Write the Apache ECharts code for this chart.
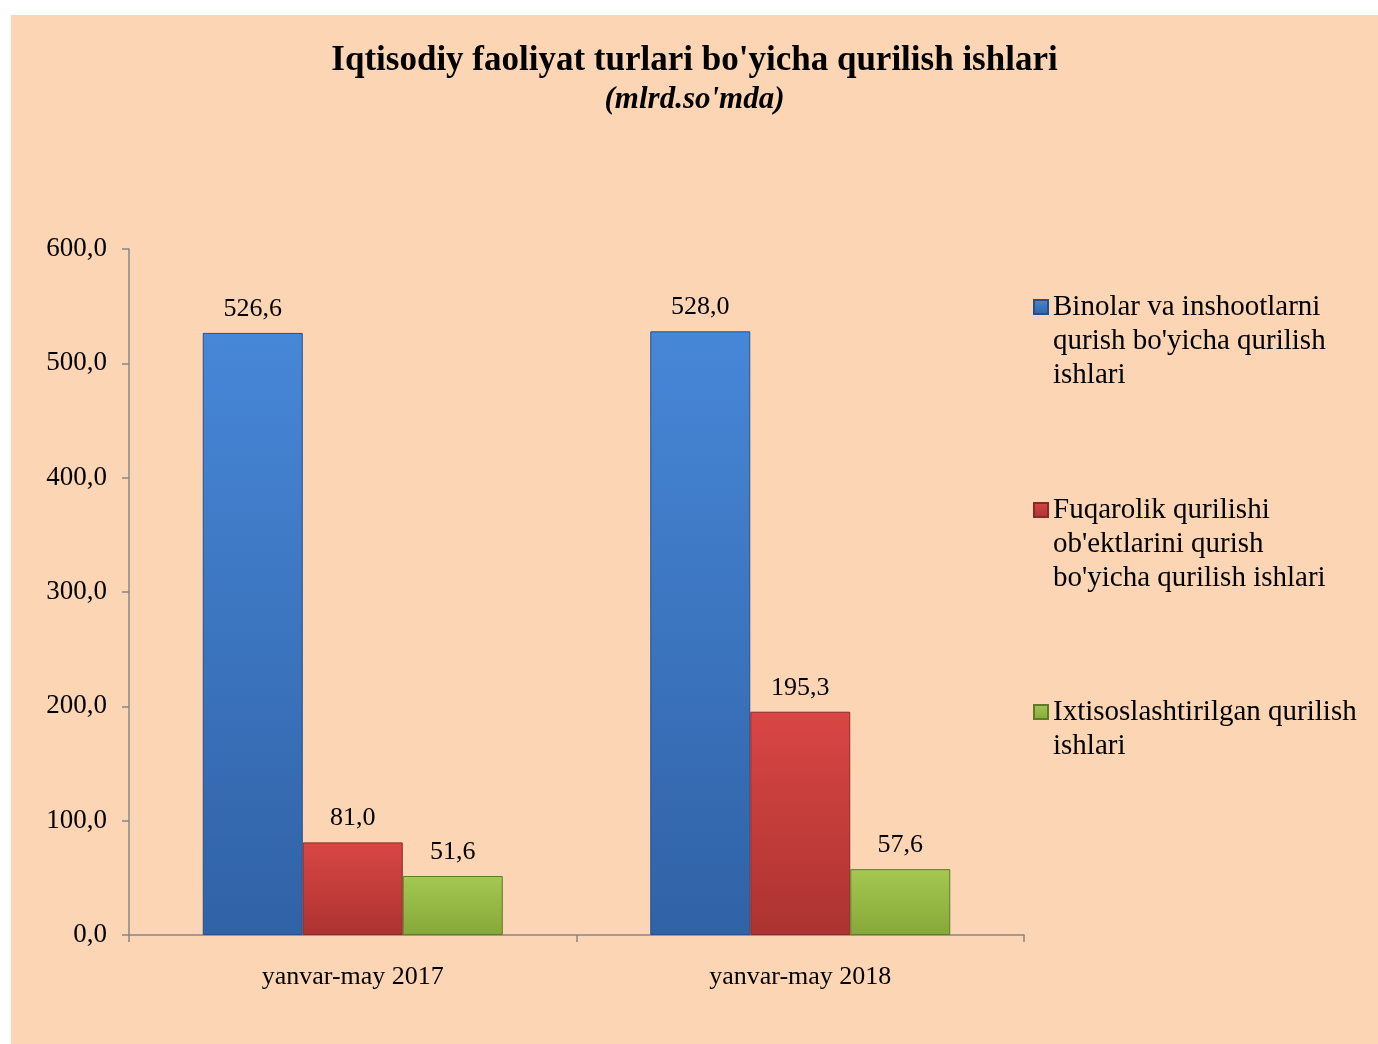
<!DOCTYPE html>
<html>
<head>
<meta charset="utf-8">
<script src="https://cdn.jsdelivr.net/npm/echarts@6/dist/echarts.min.js"></script>
<style>
    body { margin: 0; background: #ffffff; }
    #chart { position: absolute; left: 11px; top: 15px; width: 1367px; height: 1029px; background: #fcd5b4; }
</style>
</head>
<body>
<div id="chart"></div>
<script>
var categories = ['yanvar-may 2017', 'yanvar-may 2018'];
var series_names = [
    "Binolar va inshootlarni\nqurish bo'yicha qurilish\nishlari",
    "Fuqarolik qurilishi\nob'ektlarini qurish\nbo'yicha qurilish ishlari",
    "Ixtisoslashtirilgan qurilish\nishlari"
];
var binolar = [526.6, 528.0];
var fuqarolik = [81.0, 195.3];
var ixtisos = [51.6, 57.6];
var y_ticks = [0, 100, 200, 300, 400, 500, 600];

var font = "'Liberation Serif', 'Times New Roman', serif";

function fmt(v) {
    return Number(v).toFixed(1).replace('.', ',');
}

function grad(top, bottom) {
    return new echarts.graphic.LinearGradient(0, 0, 0, 1, [
        {offset: 0, color: top},
        {offset: 1, color: bottom}
    ]);
}

function make_bar(name, data, top, bottom, border) {
    return {
        name: name,
        type: 'bar',
        data: data,
        barWidth: 100,
        barGap: '0%',
        itemStyle: {
            color: grad(top, bottom),
            borderColor: border,
            borderWidth: 1
        },
        label: {
            show: true,
            position: 'top',
            distance: 11,
            fontFamily: font,
            fontSize: 26,
            color: '#000',
            formatter: function (p) { return fmt(p.value); }
        }
    };
}

// legend icon sits on the middle line, so pad with empty lines above
// to bring it level with the first line of the text
function make_legend(name, top) {
    return {
        data: [{name: name, icon: 'rect'}],
        left: 1022,
        top: top,
        padding: 0,
        itemWidth: 14,
        itemHeight: 14,
        formatter: function (n) {
            var lines = n.split('\n').length;
            return new Array(lines).join('\n') + n;
        },
        textStyle: {
            fontFamily: font,
            fontSize: 29,
            lineHeight: 34,
            color: '#000'
        }
    };
}

var chart = echarts.init(document.getElementById('chart'));
var option = {
    animation: false,
    title: [
        {
            text: "Iqtisodiy faoliyat turlari bo'yicha qurilish ishlari",
            left: 'center',
            top: 23,
            textStyle: {fontFamily: font, fontSize: 35, fontWeight: 'bold', color: '#000'}
        },
        {
            text: "(mlrd.so'mda)",
            left: 'center',
            top: 64,
            textStyle: {fontFamily: font, fontSize: 31, fontWeight: 'bold', fontStyle: 'italic', color: '#000'}
        }
    ],
    legend: [
        make_legend(series_names[0], 207),
        make_legend(series_names[1], 410),
        make_legend(series_names[2], 646)
    ],
    grid: {
        left: 118,
        top: 234,
        width: 895,
        height: 686
    },
    xAxis: {
        type: 'category',
        data: categories,
        axisLine: {lineStyle: {color: '#868686', width: 1.5}},
        axisTick: {show: true, length: 7, lineStyle: {color: '#868686', width: 1.5}},
        axisLabel: {fontFamily: font, fontSize: 26, color: '#000', margin: 29}
    },
    yAxis: {
        type: 'value',
        min: y_ticks[0],
        max: y_ticks[y_ticks.length - 1],
        interval: 100,
        splitLine: {show: false},
        axisLine: {show: true, lineStyle: {color: '#868686', width: 1.5}},
        axisTick: {show: true, length: 7, lineStyle: {color: '#868686', width: 1.5}},
        axisLabel: {
            fontFamily: font, fontSize: 27, color: '#000', margin: 22,
            formatter: function (v) { return fmt(v); }
        }
    },
    series: [
        make_bar(series_names[0], binolar, '#4787d8', '#3062a6', '#24508c'),
        make_bar(series_names[1], fuqarolik, '#d94644', '#ac3331', '#8a2a28'),
        make_bar(series_names[2], ixtisos, '#a4c851', '#86a83a', '#5f7a28')
    ]
};
chart.setOption(option);
</script>
</body>
</html>
